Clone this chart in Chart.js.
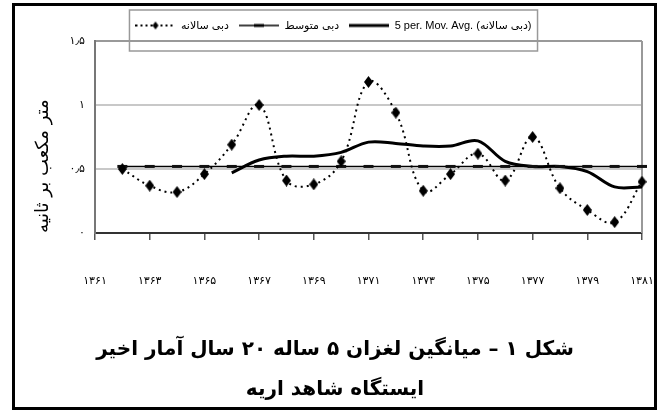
<!DOCTYPE html>
<html><head><meta charset="utf-8">
<script src="https://cdn.jsdelivr.net/npm/chart.js@4/dist/chart.umd.min.js"></script>
<style>
html,body{margin:0;padding:0;background:#fff;width:662px;height:413px;overflow:hidden;}
#frame{position:absolute;left:12px;top:3px;width:639px;height:401px;border:3px solid #000;}
.ttl{position:absolute;left:4px;width:662px;text-align:center;font-family:"DejaVu Sans";font-weight:bold;font-size:20px;direction:rtl;color:#000;line-height:24px;}
</style></head><body>
<div id="frame"></div>
<canvas id="c" width="662" height="413" style="position:absolute;left:0;top:0"></canvas>
<div class="ttl" style="top:336px">شکل ۱ – میانگین لغزان ۵ ساله ۲۰ سال آمار اخیر</div>
<div class="ttl" style="top:376px">ایستگاه شاهد اریه</div>
<script>
const years = [1362,1363,1364,1365,1366,1367,1368,1369,1370,1371,1372,1373,1374,1375,1376,1377,1378,1379,1380,1381];
const annualFlow = [0.50,0.37,0.32,0.46,0.69,1.00,0.41,0.38,0.56,1.18,0.94,0.33,0.46,0.62,0.41,0.75,0.35,0.18,0.085,0.40];
const meanFlow = [0.52,0.52,0.52,0.52,0.52,0.52,0.52,0.52,0.52,0.52,0.52,0.52,0.52,0.52,0.52,0.52,0.52,0.52,0.52,0.52];
const movingAvg = [null,null,null,null,0.47,0.57,0.60,0.60,0.63,0.71,0.70,0.68,0.68,0.72,0.56,0.52,0.52,0.48,0.36,0.36];
const seriesNames = ['دبی سالانه','دبی متوسط','5 per. Mov. Avg. (دبی سالانه)'];
const xTickYears = [1361,1363,1365,1367,1369,1371,1373,1375,1377,1379,1381];
const yTickValues = [0,0.5,1,1.5];
const yTickLabels = ['۰','۰٫۵','۱','۱٫۵'];
const yTitle = 'متر مکعب بر ثانیه';

const faDigits = '۰۱۲۳۴۵۶۷۸۹';
function toFa(v){ return String(v).replace(/[0-9]/g, d => faDigits[+d]); }

function diamondCanvas(w, h){
  const c = document.createElement('canvas'); c.width = w; c.height = h;
  const g = c.getContext('2d'); g.fillStyle = '#000';
  g.beginPath(); g.moveTo(w/2,0); g.lineTo(w,h/2); g.lineTo(w/2,h); g.lineTo(0,h/2); g.closePath(); g.fill();
  return c;
}
const diamond = diamondCanvas(9, 12);

function makeSample(kind){
  const c = document.createElement('canvas'); c.width = 40; c.height = 12;
  const g = c.getContext('2d'); g.strokeStyle = '#000'; g.fillStyle = '#000';
  const y = 6;
  if (kind === 0){
    g.lineWidth = 2; g.setLineDash([2,3]);
    g.beginPath(); g.moveTo(0,y); g.lineTo(40,y); g.stroke(); g.setLineDash([]);
    g.beginPath(); g.moveTo(20,y-4); g.lineTo(23,y); g.lineTo(20,y+4); g.lineTo(17,y); g.closePath(); g.fill();
  } else if (kind === 1){
    g.lineWidth = 1.5; g.beginPath(); g.moveTo(0,y); g.lineTo(40,y); g.stroke();
    g.fillRect(15,y-1.5,10,3);
  } else {
    g.lineWidth = 3; g.beginPath(); g.moveTo(0,y); g.lineTo(40,y); g.stroke();
  }
  return c;
}
const samples = [makeSample(0), makeSample(1), makeSample(2)];

const frameParts = {
  id: 'frameParts',
  afterInit(chart){
    chart.legend.afterFit = function(){ this.height = 53; };
  },
  beforeDatasetsDraw(chart){
    const {ctx, chartArea:a} = chart;
    ctx.save(); ctx.strokeStyle = '#999'; ctx.lineWidth = 2;
    ctx.beginPath(); ctx.moveTo(a.right, a.top); ctx.lineTo(a.right, a.bottom); ctx.stroke();
    ctx.restore();
  },
  afterDraw(chart){
    const hb = chart.legend.legendHitBoxes; if (!hb || !hb.length) return;
    const last = hb[hb.length-1];
    const l = hb[0].left - 6, r = last.left + last.width + 6;
    const ctx = chart.ctx; ctx.save(); ctx.strokeStyle = '#999'; ctx.lineWidth = 1.5;
    ctx.strokeRect(l, 10, r - l, 41); ctx.restore();
  }
};

const pts = arr => years.map((x,i) => ({x, y: arr[i]}));

new Chart(document.getElementById('c'), {
  type: 'line',
  data: { datasets: [
    { label: seriesNames[0], data: pts(annualFlow), borderColor:'#000', borderWidth:2, borderDash:[2,4],
      pointStyle: diamond, pointRadius:5, pointBackgroundColor:'#000', pointBorderColor:'#000',
      tension:0.4, fill:false, clip:false },
    { label: seriesNames[1], data: pts(meanFlow), borderColor:'#000', borderWidth:1.5,
      pointStyle:'line', pointRadius:5, pointBorderWidth:3, pointBorderColor:'#111', tension:0, fill:false, clip:false },
    { label: seriesNames[2], data: pts(movingAvg), borderColor:'#000', borderWidth:3, pointRadius:0,
      tension:0.35, fill:false, clip:false }
  ]},
  options: {
    responsive:false, animation:false, devicePixelRatio:1,
    layout:{ padding:{ left:25, right:20, top:10, bottom:120 } },
    plugins:{
      legend:{ position:'top', align:'center',
        labels:{ usePointStyle:true, pointStyleWidth:40, padding:10, color:'#000',
          font:{ family:"'Liberation Sans','DejaVu Sans'", size:11 },
          generateLabels(chart){
            const items = Chart.defaults.plugins.legend.labels.generateLabels(chart);
            items.forEach((it,i) => { it.pointStyle = samples[i]; });
            return items;
          } } },
      tooltip:{ enabled:false }
    },
    scales:{
      x:{ type:'linear', min:1361, max:1381,
        afterFit(s){ s.height = 60; s.paddingLeft = 0; s.paddingRight = 0; },
        afterBuildTicks(s){ s.ticks = xTickYears.map(v => ({value:v})); },
        ticks:{ autoSkip:false, maxRotation:0, padding:35, color:'#000',
          font:{ family:"'DejaVu Sans'", size:11 }, callback: v => toFa(v) },
        grid:{ drawOnChartArea:false, drawTicks:true, tickLength:7, color:'#555', lineWidth:1.5 },
        border:{ color:'#333', width:2 } },
      y:{ min:0, max:1.5,
        afterFit(s){ s.width = 70; },
        afterBuildTicks(s){ s.ticks = yTickValues.map(v => ({value:v})); },
        ticks:{ padding:10, color:'#000', font:{ family:"'DejaVu Sans'", size:11 },
          callback: v => yTickLabels[yTickValues.indexOf(v)] },
        grid:{ drawTicks:false, lineWidth:2, color: c => c.tick && c.tick.value === 1.5 ? '#999' : '#c8c8c8' },
        border:{ color:'#777', width:2 },
        title:{ display:true, text:yTitle, align:'start', color:'#000',
          font:{ family:"'DejaVu Sans'", size:18 }, padding:{ top:8, bottom:0 } } }
    }
  },
  plugins:[frameParts]
});
</script>
</body></html>
